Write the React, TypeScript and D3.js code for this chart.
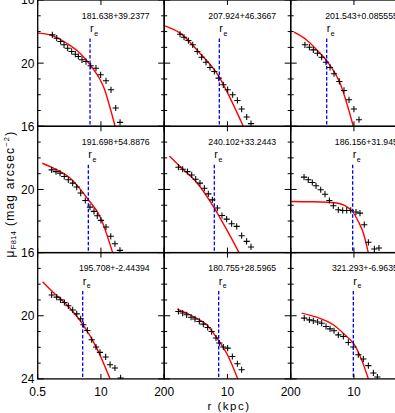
import React from 'react';
import * as d3 from 'd3';

// fit labels shown at the top of each panel
const panelLabels = [
  '181.638+39.2377',
  '207.924+46.3667',
  '201.543+0.0855550',
  '191.698+54.8876',
  '240.102+33.2443',
  '186.156+31.9459',
  '195.708+-2.44394',
  '180.755+28.5965',
  '321.293+-6.96350',
];

// effective radius (kpc) per panel
const effRadii = [5.96, 6.8, 2.75, 5.5, 5.37, 9.41, 4.21, 6.6, 9.71];

// observed profiles [r (kpc), mu]
const obs1 = [[1.0, 18.21], [1.23, 18.42], [1.48, 18.63], [1.74, 18.84], [2.07, 19.05], [2.5, 19.26], [2.97, 19.43], [3.43, 19.58], [4.08, 19.79], [4.92, 19.9], [6.14, 20.17], [7.9, 20.32], [9.86, 20.74], [12.7, 21.12], [16.1, 21.69], [20.1, 22.84], [24.7, 23.75]];
const obs2 = [[1.06, 18.17], [1.28, 18.36], [1.57, 18.57], [1.93, 18.84], [2.4, 19.26], [2.95, 19.62], [3.62, 19.94], [4.38, 20.27], [5.37, 20.53], [6.61, 20.95], [8.22, 21.37], [10.1, 21.68], [12.8, 22.0], [16.0, 22.36], [19.6, 22.91], [24.9, 23.41], [30.5, 23.83]];
const obs3 = [[0.98, 18.84], [1.21, 18.99], [1.46, 19.16], [1.77, 19.37], [2.17, 19.62], [2.66, 19.94], [3.22, 20.27], [3.89, 20.67], [5.0, 21.16], [6.24, 21.73], [7.91, 22.32], [10.0, 22.91], [12.7, 23.58]];
const obs4 = [[0.97, 18.76], [1.19, 18.87], [1.44, 18.97], [1.76, 19.18], [2.13, 19.39], [2.62, 19.6], [3.17, 19.85], [3.83, 20.23], [4.77, 20.7], [5.95, 21.12], [7.19, 21.39], [8.41, 21.67], [10.0, 21.96], [12.7, 22.38], [15.9, 22.97], [19.4, 23.44], [24.6, 23.86]];
const obs5 = [[0.98, 18.59], [1.2, 18.72], [1.5, 18.87], [1.84, 19.08], [2.22, 19.35], [2.72, 19.6], [3.35, 19.92], [4.04, 20.28], [4.89, 20.66], [6.19, 21.18], [7.72, 21.65], [9.63, 21.88], [12.2, 22.17], [15.5, 22.34], [19.6, 22.93], [24.8, 23.29], [30.5, 23.64]];
const obs6 = [[0.94, 19.22], [1.15, 19.39], [1.39, 19.56], [1.66, 19.77], [2.07, 20.02], [2.54, 20.3], [3.12, 20.7], [3.77, 21.03], [4.77, 21.29], [5.87, 21.33], [7.1, 21.33], [8.58, 21.33], [11.0, 21.43], [13.3, 21.5], [16.3, 22.23], [19.8, 23.35], [26.3, 23.77], [32.7, 23.71]];
const obs7 = [[0.97, 18.68], [1.23, 18.82], [1.48, 18.99], [1.77, 19.16], [2.13, 19.37], [2.62, 19.63], [3.17, 19.88], [3.83, 20.19], [4.34, 20.57], [5.25, 20.93], [6.45, 21.52], [7.91, 21.98], [9.55, 22.32], [12.5, 22.61], [15.4, 23.1], [19.4, 23.31], [25.4, 23.94]];
const obs8 = [[0.98, 19.73], [1.2, 19.83], [1.45, 19.94], [1.78, 20.09], [2.15, 20.21], [2.64, 20.36], [3.19, 20.53], [3.92, 20.74], [4.73, 21.0], [5.81, 21.41], [6.8, 21.73], [8.22, 21.98], [10.1, 22.05], [12.6, 22.58], [16.0, 23.04], [19.6, 23.42]];
const obs9 = [[0.95, 20.15], [1.21, 20.26], [1.46, 20.32], [1.79, 20.4], [2.17, 20.47], [2.66, 20.68], [3.22, 20.83], [3.89, 20.95], [4.77, 21.21], [6.04, 21.31], [7.66, 21.69], [9.7, 21.98], [12.3, 22.47], [15.6, 22.74], [19.8, 23.16], [25.1, 23.62], [30.3, 23.88]];

// fitted model curves [r (kpc), mu]
const fit1 = [[0.5, 18.1], [0.9, 18.21], [1.97, 18.74], [3.71, 19.37], [6.14, 20.15], [11.2, 21.47], [19.5, 24.0]];
const fit2 = [[0.5, 17.62], [1.06, 18.1], [2.72, 19.37], [6.8, 20.88], [11.3, 22.2], [21.2, 24.0]];
const fit3 = [[0.585, 18.04], [1.06, 18.53], [2.0, 19.37], [2.75, 19.85], [5.16, 21.26], [9.7, 24.0]];
const fit4 = [[0.62, 18.34], [1.05, 18.65], [2.31, 19.28], [5.5, 20.65], [9.55, 21.71], [17.4, 24.0]];
const fit5 = [[0.64, 17.88], [1.06, 18.55], [2.33, 19.56], [5.37, 21.18], [9.64, 22.55], [17.3, 24.0]];
const fit6 = [[0.5, 20.76], [1.46, 20.78], [4.41, 20.86], [9.41, 21.42], [12.3, 22.03], [15.6, 22.76], [19.7, 24.0]];
const fit7 = [[0.63, 17.84], [1.05, 18.53], [2.31, 19.52], [4.21, 20.53], [8.19, 22.05], [15.4, 24.0]];
const fit8 = [[0.93, 19.58], [1.99, 20.05], [3.74, 20.57], [6.6, 21.58], [10.4, 22.58], [16.3, 24.0]];
const fit9 = [[0.84, 19.83], [1.71, 20.09], [3.77, 20.57], [7.08, 21.31], [9.71, 21.73], [14.4, 22.78], [19.8, 24.0]];

const observed = [obs1, obs2, obs3, obs4, obs5, obs6, obs7, obs8, obs9];
const fits = [fit1, fit2, fit3, fit4, fit5, fit6, fit7, fit8, fit9];

const xTickVals = [0.5, 10, 200];
const yMajor = [16, 20, 24];
const yMinor = [17, 18, 19, 21, 22, 23];

const LEFT = 37.7;
const TOP = 0;
const PW = 126.5;
const PH = 126.3;
const FONT = 'Liberation Sans, Arial, Helvetica, sans-serif';

function Panel({ i }: { i: number }) {
  const col = i % 3;
  const row = Math.floor(i / 3);
  const x0 = LEFT + col * PW;
  const y0 = TOP + row * PH;
  const x = d3.scaleLog().domain([0.5, 200]).range([x0, x0 + PW]);
  const y = d3.scaleLinear().domain([16, 24]).range([y0, y0 + PH]);
  const line = d3
    .line<number[]>()
    .x(d => x(d[0]))
    .y(d => y(d[1]))
    .curve(d3.curveMonotoneX);
  const re = effRadii[i];
  const s = 3.1; // half size of plus markers

  return (
    <g>
      <defs>
        <clipPath id={`clip${i}`}>
          <rect x={x0} y={y0} width={PW} height={PH} />
        </clipPath>
      </defs>
      <g clipPath={`url(#clip${i})`}>
        <path d={line(fits[i]) || ''} fill="none" stroke="#ff0000" strokeWidth={1.4} />
        {observed[i].map((d, k) => (
          <path
            key={k}
            d={`M${x(d[0]) - s},${y(d[1])}H${x(d[0]) + s}M${x(d[0])},${y(d[1]) - s}V${y(d[1]) + s}`}
            stroke="#000"
            strokeWidth={1.05}
          />
        ))}
        <line
          x1={x(re)}
          x2={x(re)}
          y1={y0 + 38.5}
          y2={y0 + PH}
          stroke="#0000ff"
          strokeWidth={1.3}
          strokeDasharray="3.5,2"
        />
      </g>
      <text x={x(re)} y={y0 + 32} fontFamily={FONT} fontSize={11} fill="#000">
        r<tspan fontSize={7} dy={3.5} dx={0.5}>e</tspan>
      </text>
      <text x={x0 + 112} y={y0 + 18.5} fontFamily={FONT} fontSize={8.7} textAnchor="end" fill="#000">
        {panelLabels[i]}
      </text>
      {/* ticks */}
      {yMinor.map(v => (
        <g key={`m${v}`}>
          <line x1={x0} x2={x0 + 3} y1={y(v)} y2={y(v)} stroke="#000" strokeWidth={1} />
          <line x1={x0 + PW} x2={x0 + PW - 3} y1={y(v)} y2={y(v)} stroke="#000" strokeWidth={1} />
        </g>
      ))}
      {yMajor.map(v => (
        <g key={`M${v}`}>
          <line x1={x0} x2={x0 + 6} y1={y(v)} y2={y(v)} stroke="#000" strokeWidth={1} />
          <line x1={x0 + PW} x2={x0 + PW - 6} y1={y(v)} y2={y(v)} stroke="#000" strokeWidth={1} />
        </g>
      ))}
      {xTickVals.map(v => (
        <g key={`x${v}`}>
          <line x1={x(v)} x2={x(v)} y1={y0 + PH} y2={y0 + PH - 5} stroke="#000" strokeWidth={1} />
          <line x1={x(v)} x2={x(v)} y1={y0} y2={y0 + 5} stroke="#000" strokeWidth={1} />
        </g>
      ))}
      <rect x={x0} y={y0} width={PW} height={PH} fill="none" stroke="#000" strokeWidth={1.3} />
    </g>
  );
}

export default function App() {
  const panels = d3.range(9);
  const rows = d3.range(3);
  const cols = d3.range(3);
  const yAxis = d3.scaleLinear().domain([16, 24]).range([0, PH]);

  return (
    <svg
      width={395}
      height={413}
      style={{ position: 'absolute', left: 0, top: 0, background: '#fff' }}
    >
      <rect width={395} height={413} fill="#fff" />
      {panels.map(i => (
        <Panel key={i} i={i} />
      ))}
      {/* y tick labels */}
      {rows.map(r => (
        <g key={`yl${r}`}>
          {(r === 2 ? [16, 20, 24] : [16, 20]).map(v => (
            <text
              key={v}
              x={LEFT - 3.3}
              y={TOP + r * PH + yAxis(v) + 4.4}
              textAnchor="end"
              fontFamily={FONT}
              fontSize={12}
            >
              {v}
            </text>
          ))}
        </g>
      ))}
      {/* x tick labels */}
      {cols.map(c => {
        const xs = d3.scaleLog().domain([0.5, 200]).range([LEFT + c * PW, LEFT + (c + 1) * PW]);
        const vals = c === 0 ? xTickVals : xTickVals.slice(1);
        return vals.map(v => (
          <text
            key={`xl${c}-${v}`}
            x={xs(v)}
            y={396}
            textAnchor="middle"
            fontFamily={FONT}
            fontSize={12}
          >
            {v}
          </text>
        ));
      })}
      <text x={229} y={409.5} textAnchor="middle" fontFamily={FONT} fontSize={11.5} letterSpacing={1.5}>
        r (kpc)
      </text>
      <text
        transform="translate(13.5,194) rotate(-90)"
        textAnchor="middle"
        fontFamily={FONT}
        fontSize={12}
        letterSpacing={1.2}
      >
        μ<tspan fontSize={7.5} dy={2.5} letterSpacing={0.4}>F814</tspan>
        <tspan dy={-2.5}> (mag arcsec</tspan>
        <tspan fontSize={7.5} dy={-5}>−2</tspan>
        <tspan dy={5}>)</tspan>
      </text>
    </svg>
  );
}
